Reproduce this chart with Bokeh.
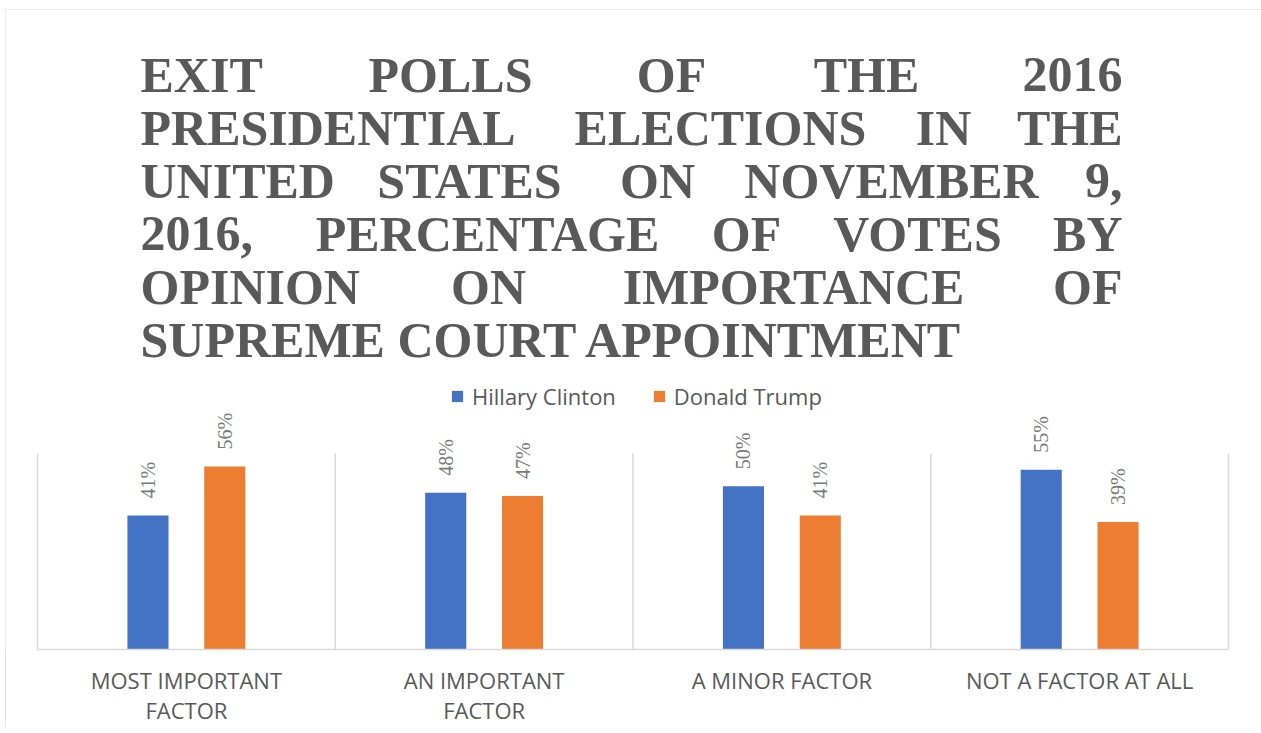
import math
from bokeh.plotting import figure
from bokeh.models import (Range1d, FixedTicker, Label, Legend, LegendItem,
                          ColumnDataSource, LabelSet)
from bokeh.embed import file_html
from bokeh.resources import INLINE

# ---------------- data ----------------
categories = ["MOST IMPORTANT\nFACTOR", "AN IMPORTANT\nFACTOR",
              "A MINOR FACTOR", "NOT A FACTOR AT ALL"]
series_names = ["Hillary Clinton", "Donald Trump"]
clinton = [41, 48, 50, 55]
trump = [56, 47, 41, 39]
colors = ["#4472C4", "#ED7D31"]
y_max = 60

title_lines = [
    ["EXIT", "POLLS", "OF", "THE", "2016"],
    ["PRESIDENTIAL", "ELECTIONS", "IN", "THE"],
    ["UNITED", "STATES", "ON", "NOVEMBER", "9,"],
    ["2016,", "PERCENTAGE", "OF", "VOTES", "BY"],
    ["OPINION", "ON", "IMPORTANCE", "OF"],
    ["SUPREME COURT APPOINTMENT"],
]

# ---------------- layout (canvas pixels) ----------------
OX, OY = 5, 9                 # canvas origin on the page
FRAME_W, FRAME_H = 1256, 640
AREA_L, AREA_R, AREA_T = 32, 1223, 444   # plot area inside the frame
# title: page-pixel centres of the middle words of each justified line
title_mid_x = [[450, 671, 866], [720, 943], [469, 657, 891],
               [487, 746, 917], [488, 793], []]
title_left, title_right = 140, 1122
title_base = [74, 127, 180, 233, 286, 339]

ux = (AREA_R - AREA_L) / len(categories)          # px per category
uy = (FRAME_H - AREA_T) / y_max                   # px per percent
x0 = -AREA_L / ux
x1 = len(categories) + (FRAME_W - AREA_R) / ux
y1 = FRAME_H / uy


def px_to_x(page_x):
    return (page_x - OX - AREA_L) / ux


def px_to_y(page_y):
    return (FRAME_H - (page_y - OY)) / uy


p = figure(frame_width=FRAME_W, frame_height=FRAME_H, output_backend="svg",
           toolbar_location=None, x_range=Range1d(x0, x1),
           y_range=Range1d(0, y1), min_border=0)
p.outline_line_color = None
p.background_fill_color = "white"
p.border_fill_color = "white"
p.styles = {"margin-left": f"{OX}px", "margin-top": f"{OY}px",
            "outline": "1px solid #d9d9d9", "outline-offset": "-1px"}

centers = [i + 0.5 for i in range(len(categories))]
bw = 0.138
off = 0.129

# vertical separators between categories
bounds = list(range(len(categories) + 1))
p.segment(x0=bounds, y0=[0] * len(bounds), x1=bounds, y1=[y_max] * len(bounds),
          line_color="#d9d9d9", line_width=1.5)

src_c = ColumnDataSource(dict(x=[c - off for c in centers], top=clinton,
                              lab=[f"{v}%" for v in clinton]))
src_t = ColumnDataSource(dict(x=[c + off for c in centers], top=trump,
                              lab=[f"{v}%" for v in trump]))
r1 = p.vbar(x="x", top="top", width=bw, source=src_c, fill_color=colors[0],
            line_color=None)
r2 = p.vbar(x="x", top="top", width=bw, source=src_t, fill_color=colors[1],
            line_color=None)

for src in (src_c, src_t):
    ls = LabelSet(x="x", y="top", text="lab", source=src, angle=math.pi / 2,
                  text_align="left", text_baseline="middle", y_offset=17,
                  text_font="Open Sans", text_font_size="20px",
                  text_color="#7a7a7a")
    p.add_layout(ls)

# axes / grid
p.yaxis.visible = False
p.ygrid.visible = False
p.xgrid.visible = False
p.xaxis.bounds = (0, len(categories))
p.xaxis.ticker = FixedTicker(ticks=centers)
p.xaxis.major_label_overrides = {c: lab for c, lab in zip(centers, categories)}
p.xaxis.major_tick_line_color = None
p.xaxis.minor_tick_line_color = None
p.xaxis.axis_line_color = "#d9d9d9"
p.xaxis.axis_line_width = 1.5
p.xaxis.major_label_text_font = "Open Sans"
p.xaxis.major_label_text_font_size = "22px"
p.xaxis.major_label_text_line_height = 1.0
p.xaxis.major_label_text_color = "#595959"
p.xaxis.major_label_standoff = 9

legend = Legend(items=[LegendItem(label=series_names[0], renderers=[r1]),
                       LegendItem(label=series_names[1], renderers=[r2])],
                orientation="horizontal", location=(445, 238),
                glyph_width=14, glyph_height=14, label_standoff=8, spacing=36,
                padding=0, margin=0, border_line_color=None,
                background_fill_alpha=0, label_text_font="Open Sans",
                label_text_font_size="22px", label_text_color="#595959")
p.add_layout(legend)

# title (justified, word by word)
for words, mids, yb in zip(title_lines, title_mid_x, title_base):
    for j, w in enumerate(words):
        if j == 0:
            x, al = title_left, "left"
        elif j == len(words) - 1:
            x, al = title_right, "right"
        else:
            x, al = mids[j - 1], "center"
        p.add_layout(Label(x=px_to_x(x), y=px_to_y(yb), text=w, text_align=al,
                           text_baseline="alphabetic",
                           text_font="Liberation Serif", text_font_style="bold",
                           text_font_size="50px", text_color="#595959"))

open("out.html", "w").write(file_html(p, INLINE))
